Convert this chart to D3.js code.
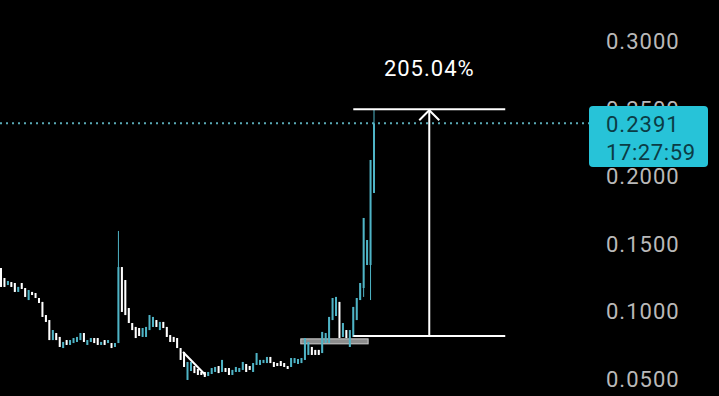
<!DOCTYPE html>
<html>
<head>
<meta charset="utf-8">
<script src="https://cdn.jsdelivr.net/npm/d3@7"></script>
<style>
  html, body { margin: 0; padding: 0; background: #000; }
  svg { display: block; }
  text { font-family: Roboto, 'Noto Sans', sans-serif; }
</style>
</head>
<body>
<svg id="chart" width="719" height="396"></svg>
<script>
const opens = [
  0.1321, 0.1247, 0.1195, 0.1217, 0.1210, 0.1144, 0.1210, 0.1173, 0.1084, 0.1144,
  0.1136, 0.1099, 0.1070, 0.0973, 0.0936, 0.0788, 0.0840, 0.0811, 0.0729, 0.0788,
  0.0752, 0.0766, 0.0774, 0.0788, 0.0840, 0.0752, 0.0774, 0.0803, 0.0803, 0.0752,
  0.0788, 0.0766, 0.0766, 0.0737, 0.0766, 0.1328, 0.1232, 0.1025, 0.0914, 0.0885,
  0.0877, 0.0811, 0.0811, 0.0862, 0.0885, 0.0936, 0.0862, 0.0922, 0.0885, 0.0825,
  0.0811, 0.0803, 0.0729, 0.0700, 0.0493, 0.0559, 0.0596, 0.0574, 0.0552, 0.0552,
  0.0522, 0.0537, 0.0552, 0.0596, 0.0552, 0.0581, 0.0581, 0.0530, 0.0552, 0.0552,
  0.0567, 0.0611, 0.0596, 0.0552, 0.0604, 0.0604, 0.0618, 0.0618, 0.0663, 0.0626,
  0.0618, 0.0633, 0.0618, 0.0596, 0.0589, 0.0618, 0.0611, 0.0618, 0.0641, 0.0678,
  0.0737, 0.0715, 0.0715, 0.0692, 0.0766, 0.0766, 0.0936, 0.0966, 0.1070, 0.0811,
  0.0862, 0.0737, 0.0811, 0.0936, 0.1084, 0.1173, 0.1343, 0.1343, 0.1876
]
const closes = [
  0.1181, 0.1181, 0.1225, 0.1181, 0.1144, 0.1181, 0.1166, 0.1107, 0.1158, 0.1121,
  0.1099, 0.1062, 0.0959, 0.0922, 0.0788, 0.0862, 0.0788, 0.0737, 0.0774, 0.0752,
  0.0788, 0.0803, 0.0811, 0.0840, 0.0774, 0.0788, 0.0803, 0.0766, 0.0752, 0.0774,
  0.0752, 0.0788, 0.0729, 0.0766, 0.1328, 0.0996, 0.0973, 0.0914, 0.0862, 0.0803,
  0.0818, 0.0877, 0.0885, 0.0973, 0.0959, 0.0885, 0.0922, 0.0877, 0.0811, 0.0774,
  0.0774, 0.0729, 0.0641, 0.0589, 0.0626, 0.0626, 0.0544, 0.0530, 0.0530, 0.0515,
  0.0552, 0.0581, 0.0589, 0.0544, 0.0641, 0.0552, 0.0530, 0.0567, 0.0589, 0.0581,
  0.0626, 0.0552, 0.0567, 0.0618, 0.0692, 0.0641, 0.0641, 0.0663, 0.0618, 0.0589,
  0.0596, 0.0596, 0.0589, 0.0574, 0.0655, 0.0655, 0.0648, 0.0655, 0.0803, 0.0774,
  0.0678, 0.0678, 0.0678, 0.0848, 0.0840, 0.0959, 0.1099, 0.1107, 0.0803, 0.0914,
  0.0803, 0.0862, 0.1033, 0.1099, 0.1210, 0.1691, 0.1528, 0.2120, 0.2391
]
// wicks that poke out of the body (by candle index)
const wickHighs = { 34: 0.1595, 108: 0.2495 }
const wickLows = { 105: 0.1107, 107: 0.1084 }

const yTicks = [0.30, 0.25, 0.20, 0.15, 0.10, 0.05]
const lastPrice = 0.2391
const lastTime = '17:27:59'

// drawings on the chart
const measure = { from: 102, to: 146, low: 0.0818, high: 0.2495, label: '205.04%' }
const trendLine = [[52.7, 0.0700], [59.2, 0.0530]]
const zone = { from: 86.8, to: 106.3, top: 0.0797, bottom: 0.0760 }

const colors = { up: '#4fb4c6', down: '#ffffff', axis: '#b9b9b9', badge: '#27c3d8' }

window.addEventListener('DOMContentLoaded', draw)

function draw () {
  const svg = d3.select('#chart')
  const candles = opens.map((o, i) => {
    const c = closes[i]
    return {
      i,
      open: o,
      close: c,
      high: wickHighs[i] !== undefined ? wickHighs[i] : Math.max(o, c),
      low: wickLows[i] !== undefined ? wickLows[i] : Math.min(o, c)
    }
  })

  const x = d3.scaleLinear().domain([0, 108]).range([1, 374])
  const y = d3.scaleLinear().domain([0.05, 0.30]).range([379, 41])

  svg.append('rect').attr('width', 719).attr('height', 396).attr('fill', '#000')

  // y axis labels on the right
  svg.append('g')
    .selectAll('text')
    .data(yTicks)
    .join('text')
    .attr('x', 606)
    .attr('y', d => y(d))
    .attr('dy', '0.36em')
    .attr('fill', colors.axis)
    .attr('font-size', 22)
    .attr('letter-spacing', 1)
    .text(d => d.toFixed(4))

  // last price dotted line
  svg.append('line')
    .attr('x1', 0).attr('x2', 590)
    .attr('y1', y(lastPrice)).attr('y2', y(lastPrice))
    .attr('stroke', '#5aaab6')
    .attr('stroke-width', 2)
    .attr('stroke-dasharray', '2,4')

  // selected horizontal zone
  svg.append('rect')
    .attr('x', x(zone.from))
    .attr('width', x(zone.to) - x(zone.from))
    .attr('y', y(zone.top))
    .attr('height', y(zone.bottom) - y(zone.top))
    .attr('fill', '#8c8c8c')
    .attr('stroke', '#cfcfcf')
    .attr('stroke-width', 1)

  // candles
  const g = svg.append('g')
  g.selectAll('line.wick')
    .data(candles)
    .join('line')
    .attr('class', 'wick')
    .attr('x1', d => x(d.i)).attr('x2', d => x(d.i))
    .attr('y1', d => y(d.high)).attr('y2', d => y(d.low))
    .attr('stroke', d => d.close >= d.open ? colors.up : colors.down)
    .attr('stroke-width', 1)

  g.selectAll('rect.body')
    .data(candles)
    .join('rect')
    .attr('class', 'body')
    .attr('x', d => x(d.i) - 1)
    .attr('width', 2)
    .attr('y', d => y(Math.max(d.open, d.close)))
    .attr('height', d => Math.max(1, Math.abs(y(d.open) - y(d.close))))
    .attr('fill', d => d.close >= d.open ? colors.up : colors.down)

  // trend line drawing
  svg.append('line')
    .attr('x1', x(trendLine[0][0])).attr('y1', y(trendLine[0][1]))
    .attr('x2', x(trendLine[1][0])).attr('y2', y(trendLine[1][1]))
    .attr('stroke', '#fff')
    .attr('stroke-width', 2)

  // price range measurement
  const mid = (measure.from + measure.to) / 2
  const m = svg.append('g').attr('stroke', '#fff').attr('stroke-width', 2).attr('fill', 'none')
  m.append('line')
    .attr('x1', x(measure.from)).attr('x2', x(measure.to))
    .attr('y1', y(measure.high)).attr('y2', y(measure.high))
  m.append('line')
    .attr('x1', x(measure.from)).attr('x2', x(measure.to))
    .attr('y1', y(measure.low)).attr('y2', y(measure.low))
  m.append('line')
    .attr('x1', x(mid)).attr('x2', x(mid))
    .attr('y1', y(measure.low)).attr('y2', y(measure.high) + 1)
  m.append('path')
    .attr('d', `M${x(mid) - 10},${y(measure.high) + 11}L${x(mid)},${y(measure.high) + 1}L${x(mid) + 10},${y(measure.high) + 11}`)
  svg.append('text')
    .attr('x', x(mid))
    .attr('y', 76)
    .attr('text-anchor', 'middle')
    .attr('fill', '#fff')
    .attr('font-size', 22)
    .attr('letter-spacing', 1)
    .text(measure.label)

  // last price badge
  const badge = svg.append('g')
  badge.append('rect')
    .attr('x', 589).attr('y', 106)
    .attr('width', 119).attr('height', 61)
    .attr('rx', 4)
    .attr('fill', colors.badge)
  badge.append('text')
    .attr('x', 606).attr('y', 132)
    .attr('fill', '#0b3c45')
    .attr('font-size', 22)
    .attr('letter-spacing', 1)
    .text(lastPrice.toFixed(4))
  badge.append('text')
    .attr('x', 606).attr('y', 160)
    .attr('fill', '#0b3c45')
    .attr('font-size', 22)
    .attr('letter-spacing', 0.6)
    .text(lastTime)
}
</script>
</body>
</html>
